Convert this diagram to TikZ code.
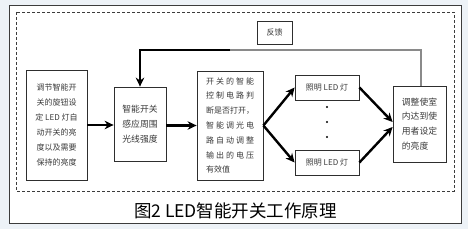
\documentclass[tikz,border=0pt]{standalone}
\usepackage{fontspec}
\newfontfamily\cjk{Noto Sans CJK SC}
\newfontfamily\cjkwide[LetterSpace=25]{Noto Sans CJK SC}
\usetikzlibrary{arrows.meta}
\definecolor{bgblue}{HTML}{EDF2F7}
\definecolor{framegray}{HTML}{3C3C3C}
\definecolor{boxgray}{HTML}{2E2E2E}
\definecolor{textgray}{HTML}{3A3A3A}
\definecolor{fbgray}{HTML}{8A8A8A}

\begin{document}
\begin{tikzpicture}[
    x=1pt, y=-1pt,
    every node/.style={font=\cjk\fontsize{8}{15}\selectfont, text=textgray},
    box/.style={draw=boxgray, line width=0.8pt, inner sep=2pt, align=center},
    wordbox/.style={box, align=left},
    flowarrow/.style={-{Stealth[length=9pt,width=8.5pt]}, line width=2.4pt, black},
    fbline/.style={line width=1.4pt, black},
    dotmark/.style={circle, fill=black, inner sep=0pt, minimum size=2.4pt},
]
\useasboundingbox (0,0) rectangle (468,229);

% ---- Frames ----
\fill[bgblue] (0,0) rectangle (468,229);
\filldraw[fill=white, draw=framegray, line width=0.6pt] (9,5) rectangle (461,223);
\draw[framegray, line width=0.7pt, dash pattern=on 3pt off 2pt] (16,12) rectangle (454,191);

% ---- Boxes ----
\node[box, minimum width=61pt, minimum height=110pt] (adjust) at (56.5,125)
    {调节智能开\\关的旋钮设\\定 LED 灯自\\动开关的亮\\度以及需要\\保持的亮度};
\node[box, minimum width=52pt, minimum height=74pt, font=\cjk\fontsize{8.8}{15}\selectfont] (sense) at (140,124)
    {智能开关\\感应周围\\光线强度};
\node[wordbox, minimum width=66pt, minimum height=109pt, font=\cjkwide\fontsize{8}{14.8}\selectfont] (control) at (230,125.5)
    {开关的智能\\控制电路判\\{\cjk 断是否打开，}\\智能调光电\\路自动调整\\输出的电压\\{\cjk 有效值}};
\node[box, minimum width=64pt, minimum height=25pt] (lamptop) at (327,87.5) {照明 LED 灯};
\node[box, minimum width=64pt, minimum height=25pt] (lampbot) at (327,162.5) {照明 LED 灯};
\node[wordbox, minimum width=53pt, minimum height=76pt, font=\cjk\fontsize{8.8}{14.8}\selectfont] (result) at (419.5,124)
    {调整使室\\内达到使\\用者设定\\的亮度};
\node[box, minimum width=35pt, minimum height=23pt] (feedback) at (274.5,32.5) {反馈};

% ---- Dots between the lamps ----
\node[dotmark] (d1) at (327,107) {};
\node[dotmark] (d2) at (327,122) {};
\node[dotmark] (d3) at (327,137) {};

% ---- Arrows ----
\draw[flowarrow] (adjust.east) -- (adjust.east -| sense.west);
\draw[flowarrow] (sense.east |- control.west) -- (control.west);
\draw[flowarrow] (control.east) -- (lamptop.west);
\draw[flowarrow] (control.east) -- (lampbot.west);
\draw[flowarrow] (lamptop.east) -- ([yshift=2pt]result.west);
\draw[flowarrow] (lampbot.east) -- ([yshift=-3pt]result.west);

% Feedback loop: grey from the result box, black into the sensor box
\coordinate (fbturn) at (230,50);
\draw[fbgray, line width=1.2pt] ([xshift=1.5pt]result.north) |- (fbturn);
\draw[fbline] (fbturn) -| ([yshift=8pt]sense.north);
\draw[flowarrow] ([yshift=8.5pt]sense.north) -- (sense.north);

% ---- Caption ----
\node[font=\cjk\fontsize{17.5}{20}\selectfont, text=black] (caption) at (235.5,211) {图2 LED智能开关工作原理};

\end{tikzpicture}
\end{document}
